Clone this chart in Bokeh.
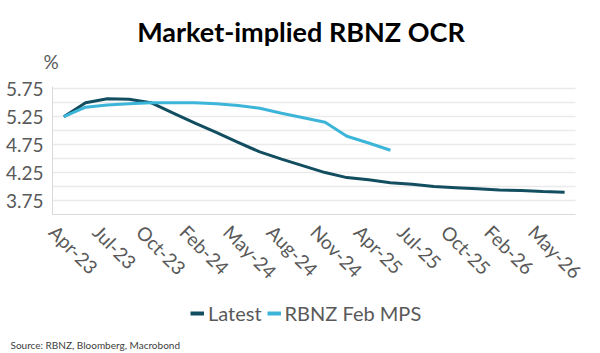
from bokeh.plotting import figure
from bokeh.models import FixedTicker, Legend, LegendItem, Range1d, Label
from bokeh.embed import file_html
from bokeh.resources import INLINE

# ---- data ----
categories = ["Apr-23", "May-23", "Jul-23", "Aug-23", "Oct-23", "Nov-23", "Feb-24", "Apr-24",
              "May-24", "Jul-24", "Aug-24", "Oct-24", "Nov-24", "Feb-25", "Apr-25", "May-25",
              "Jul-25", "Aug-25", "Oct-25", "Nov-25", "Feb-26", "Apr-26", "May-26", "Jul-26"]
latest = [5.25, 5.50, 5.57, 5.56, 5.50, 5.32, 5.14, 4.97, 4.79, 4.62, 4.49, 4.37,
          4.25, 4.16, 4.12, 4.07, 4.04, 4.00, 3.98, 3.96, 3.94, 3.93, 3.91, 3.90]
feb_mps = [5.25, 5.42, 5.46, 5.48, 5.50, 5.50, 5.50, 5.48, 5.45, 5.40, 5.31, 5.23,
           5.15, 4.90, 4.78, 4.65]
y_label_ticks = [3.75, 4.25, 4.75, 5.25, 5.75]
y_minor_ticks = [4.00, 4.50, 5.00, 5.50]
title_text = "Market-implied RBNZ OCR"
unit_text = "%"
source_text = "Source: RBNZ, Bloomberg, Macrobond"
series_names = ["Latest", "RBNZ Feb MPS"]

DARK = "#124e60"
LIGHT = "#3db5d9"
GRAY = "#595959"
FONT = "Lato"


def strip(height):
    f = figure(width=600, height=height, output_backend="svg", toolbar_location=None,
               x_range=Range1d(0, 600), y_range=Range1d(0, height),
               x_axis_type=None, y_axis_type=None, min_border=0)
    f.outline_line_color = None
    f.grid.grid_line_color = None
    f.background_fill_color = "white"
    f.border_fill_color = "white"
    return f


# ---- title strip ----
t = strip(74)
t.add_layout(Label(x=300.5, y=43, text=title_text, text_align="center", text_baseline="middle",
                   text_font=FONT, text_font_size="27px", text_font_style="bold",
                   text_color="black"))
t.add_layout(Label(x=50.5, y=13, text=unit_text, text_align="center", text_baseline="middle",
                   text_font=FONT, text_font_size="19px", text_color=GRAY))

# ---- main chart ----
p = figure(frame_width=523, frame_height=128, output_backend="svg", toolbar_location=None,
           x_range=Range1d(-0.52, len(categories) - 0.5), y_range=Range1d(3.5, 5.79),
           min_border_left=52, min_border_right=25, min_border_top=12, min_border_bottom=84)
p.outline_line_color = None
p.background_fill_color = "white"
p.border_fill_color = "white"

xs_latest = list(range(len(latest)))
xs_mps = list(range(len(feb_mps)))
r1 = p.line(xs_latest, latest, line_color=DARK, line_width=3, line_join="round")
r2 = p.line(xs_mps, feb_mps, line_color=LIGHT, line_width=3, line_join="round")

# x axis (labels every second category, nudged so the rotated text starts left of the point)
label_idx = list(range(0, len(categories), 2))
tick_pos = [i - 0.5 for i in label_idx]
p.xaxis.ticker = FixedTicker(ticks=tick_pos)
p.xaxis.major_label_overrides = {tp: categories[i] for tp, i in zip(tick_pos, label_idx)}
p.xaxis.major_label_orientation = -0.785398
p.xaxis.major_label_text_font = FONT
p.xaxis.major_label_text_font_size = "19px"
p.xaxis.major_label_text_color = GRAY
p.xaxis.major_tick_line_color = None
p.xaxis.minor_tick_line_color = None
p.xaxis.axis_line_color = "#d9d9d9"
p.xaxis.major_label_standoff = 8
p.xgrid.grid_line_color = None

# y axis
p.yaxis.ticker = FixedTicker(ticks=y_label_ticks, minor_ticks=y_minor_ticks)
p.yaxis.major_label_overrides = {v: f"{v:.2f}" for v in y_label_ticks}
p.yaxis.major_label_text_font = FONT
p.yaxis.major_label_text_font_size = "19px"
p.yaxis.major_label_text_color = GRAY
p.yaxis.major_tick_line_color = None
p.yaxis.minor_tick_line_color = None
p.yaxis.axis_line_color = "#d9d9d9"
p.yaxis.major_label_standoff = 3
p.ygrid.grid_line_color = "#d4d4d4"
p.ygrid.grid_line_dash = "1 1"
p.ygrid.grid_line_width = 1.5
p.ygrid.minor_grid_line_color = "#d4d4d4"
p.ygrid.minor_grid_line_dash = "1 1"
p.ygrid.minor_grid_line_width = 1.5

# ---- legend / source strip ----
q = strip(55)
nan = float("nan")
k1 = q.line([nan], [nan], line_color=DARK, line_width=4)
k2 = q.line([nan], [nan], line_color=LIGHT, line_width=4)
legend = Legend(items=[LegendItem(label=series_names[0], renderers=[k1]),
                       LegendItem(label=series_names[1], renderers=[k2])],
                location=(190, 28), orientation="horizontal",
                padding=0, margin=0, spacing=5, label_standoff=4,
                glyph_width=14, glyph_height=24, border_line_color=None,
                background_fill_alpha=0,
                label_text_font=FONT, label_text_font_size="20px",
                label_text_color=GRAY)
q.add_layout(legend, "center")
q.add_layout(Label(x=10, y=8.4, text=source_text, text_align="left", text_baseline="middle",
                   text_font=FONT, text_font_size="10px", text_color="#404040"))

open("out.html", "w").write(file_html([t, p, q], INLINE))
